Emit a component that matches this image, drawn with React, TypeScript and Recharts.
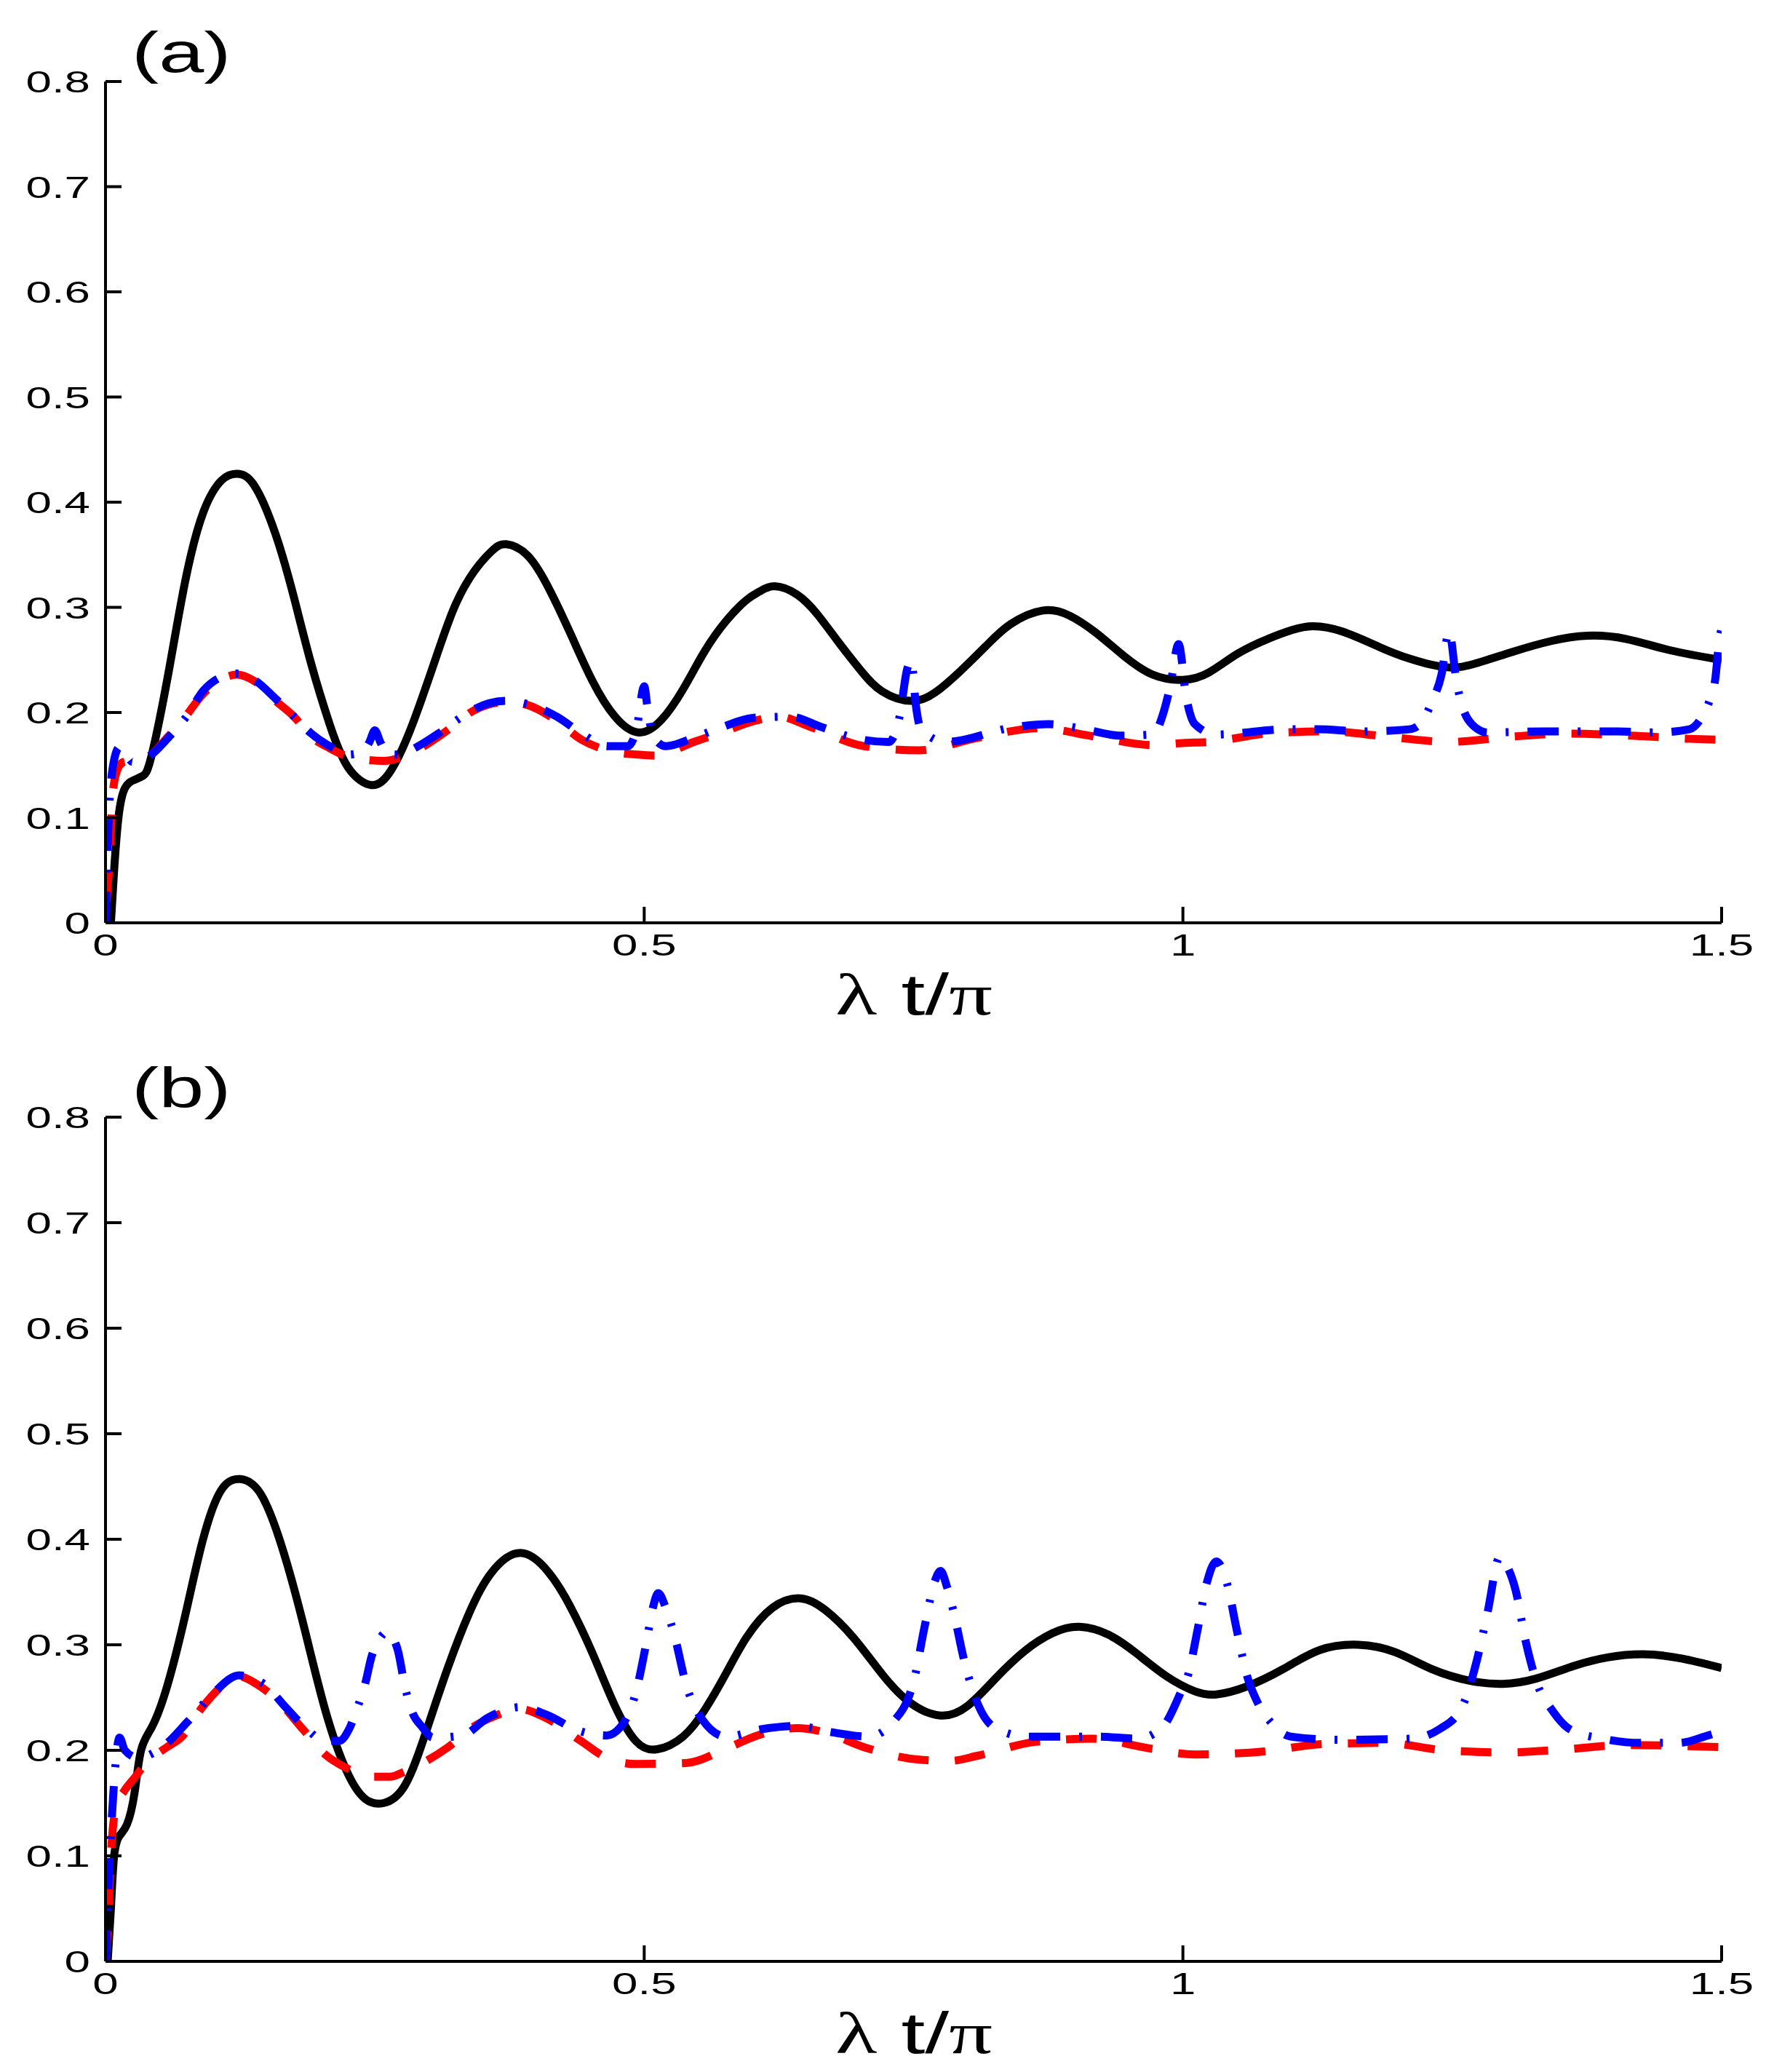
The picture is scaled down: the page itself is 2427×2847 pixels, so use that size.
import React from "react";
import { LineChart, Line, XAxis, YAxis } from "recharts";

// panel (a)
const tA_black = [0.005, 0.008, 0.012, 0.018, 0.027, 0.035, 0.0425, 0.0576, 0.074, 0.091, 0.108, 0.122, 0.138, 0.158, 0.175, 0.191, 0.208, 0.225, 0.247, 0.265, 0.285, 0.309, 0.325, 0.342, 0.359, 0.372, 0.392, 0.412, 0.432, 0.452, 0.473, 0.495, 0.516, 0.536, 0.556, 0.576, 0.595, 0.607, 0.621, 0.642, 0.661, 0.681, 0.701, 0.721, 0.748, 0.77, 0.793, 0.817, 0.84, 0.87, 0.895, 0.919, 0.945, 0.972, 1.0, 1.024, 1.051, 1.079, 1.1, 1.12, 1.148, 1.183, 1.211, 1.245, 1.273, 1.307, 1.342, 1.375, 1.411, 1.453, 1.5];
const vA_black = [0, 0.05, 0.1, 0.128, 0.136, 0.14, 0.158, 0.233, 0.325, 0.391, 0.421, 0.427, 0.416, 0.369, 0.309, 0.246, 0.189, 0.148, 0.131, 0.145, 0.189, 0.259, 0.303, 0.334, 0.354, 0.36, 0.349, 0.317, 0.274, 0.23, 0.196, 0.181, 0.193, 0.222, 0.258, 0.287, 0.307, 0.315, 0.32, 0.312, 0.293, 0.266, 0.24, 0.22, 0.211, 0.219, 0.239, 0.263, 0.284, 0.297, 0.292, 0.276, 0.254, 0.236, 0.231, 0.238, 0.256, 0.27, 0.278, 0.282, 0.277, 0.262, 0.251, 0.243, 0.247, 0.258, 0.268, 0.273, 0.27, 0.259, 0.25];

const tA_red = [0.001, 0.004, 0.007, 0.012, 0.017, 0.031, 0.041, 0.058, 0.071, 0.091, 0.108, 0.122, 0.138, 0.158, 0.175, 0.191, 0.208, 0.225, 0.242, 0.258, 0.285, 0.309, 0.325, 0.342, 0.372, 0.392, 0.419, 0.442, 0.466, 0.493, 0.51, 0.546, 0.572, 0.602, 0.625, 0.655, 0.704, 0.755, 0.81, 0.866, 0.919, 0.972, 1.0, 1.024, 1.079, 1.134, 1.19, 1.247, 1.304, 1.359, 1.415, 1.47, 1.5];
const vA_red = [0.02, 0.063, 0.126, 0.148, 0.153, 0.155, 0.159, 0.177, 0.192, 0.218, 0.232, 0.236, 0.23, 0.211, 0.196, 0.177, 0.166, 0.158, 0.155, 0.154, 0.162, 0.177, 0.189, 0.202, 0.21, 0.207, 0.192, 0.174, 0.164, 0.16, 0.159, 0.172, 0.181, 0.192, 0.196, 0.186, 0.168, 0.164, 0.176, 0.185, 0.177, 0.169, 0.171, 0.172, 0.18, 0.182, 0.177, 0.172, 0.177, 0.18, 0.178, 0.175, 0.174];

const tA_blue = [0, 0.003, 0.008, 0.013, 0.018, 0.025, 0.035, 0.045, 0.06, 0.075, 0.091, 0.108, 0.122, 0.138, 0.158, 0.175, 0.191, 0.208, 0.225, 0.238, 0.245, 0.25, 0.255, 0.262, 0.275, 0.285, 0.309, 0.325, 0.342, 0.372, 0.392, 0.419, 0.442, 0.466, 0.485, 0.493, 0.5, 0.503, 0.508, 0.52, 0.546, 0.572, 0.602, 0.635, 0.665, 0.694, 0.727, 0.737, 0.744, 0.748, 0.752, 0.757, 0.78, 0.843, 0.875, 0.909, 0.942, 0.972, 0.982, 0.988, 0.996, 1.003, 1.011, 1.031, 1.096, 1.125, 1.166, 1.21, 1.221, 1.231, 1.24, 1.247, 1.254, 1.259, 1.269, 1.283, 1.335, 1.404, 1.439, 1.47, 1.48, 1.489, 1.494, 1.498, 1.5];
const vA_blue = [0, 0.1, 0.155, 0.167, 0.162, 0.153, 0.155, 0.162, 0.178, 0.196, 0.221, 0.234, 0.237, 0.231, 0.213, 0.196, 0.18, 0.168, 0.16, 0.162, 0.172, 0.183, 0.172, 0.16, 0.16, 0.165, 0.18, 0.192, 0.203, 0.211, 0.208, 0.196, 0.18, 0.168, 0.168, 0.185, 0.225, 0.205, 0.178, 0.168, 0.176, 0.186, 0.195, 0.196, 0.186, 0.176, 0.172, 0.196, 0.241, 0.25, 0.208, 0.184, 0.172, 0.186, 0.189, 0.184, 0.178, 0.179, 0.2, 0.224, 0.265, 0.215, 0.189, 0.179, 0.184, 0.184, 0.182, 0.184, 0.19, 0.21, 0.236, 0.277, 0.229, 0.207, 0.188, 0.181, 0.182, 0.182, 0.181, 0.184, 0.193, 0.212, 0.231, 0.27, 0.28];

// panel (b)
const tB_black = [0.002, 0.005, 0.008, 0.013, 0.02, 0.027, 0.033, 0.043, 0.057, 0.074, 0.09, 0.107, 0.125, 0.144, 0.164, 0.184, 0.204, 0.224, 0.241, 0.258, 0.278, 0.298, 0.318, 0.338, 0.358, 0.385, 0.411, 0.431, 0.452, 0.472, 0.492, 0.512, 0.536, 0.556, 0.576, 0.595, 0.619, 0.645, 0.668, 0.694, 0.721, 0.747, 0.775, 0.8, 0.826, 0.853, 0.879, 0.904, 0.932, 0.958, 0.985, 1.011, 1.031, 1.058, 1.093, 1.127, 1.163, 1.197, 1.231, 1.266, 1.297, 1.328, 1.363, 1.394, 1.427, 1.463, 1.5];
const vB_black = [0, 0.05, 0.1, 0.119, 0.13, 0.16, 0.2, 0.222, 0.26, 0.328, 0.398, 0.446, 0.457, 0.443, 0.392, 0.318, 0.238, 0.18, 0.154, 0.15, 0.167, 0.219, 0.279, 0.331, 0.368, 0.387, 0.369, 0.337, 0.292, 0.244, 0.209, 0.201, 0.213, 0.238, 0.273, 0.307, 0.335, 0.344, 0.333, 0.307, 0.272, 0.245, 0.233, 0.242, 0.268, 0.294, 0.311, 0.317, 0.309, 0.291, 0.27, 0.256, 0.253, 0.26, 0.277, 0.295, 0.3, 0.293, 0.277, 0.266, 0.263, 0.268, 0.28, 0.288, 0.291, 0.287, 0.278];

const tB_red = [0, 0.002, 0.005, 0.01, 0.017, 0.027, 0.037, 0.057, 0.07, 0.09, 0.107, 0.124, 0.14, 0.161, 0.184, 0.204, 0.224, 0.244, 0.264, 0.278, 0.298, 0.318, 0.341, 0.358, 0.385, 0.408, 0.441, 0.465, 0.492, 0.539, 0.579, 0.605, 0.642, 0.668, 0.704, 0.757, 0.784, 0.81, 0.863, 0.916, 0.968, 1.011, 1.076, 1.131, 1.188, 1.243, 1.3, 1.356, 1.411, 1.468, 1.5];
const vB_red = [0, 0.03, 0.1, 0.148, 0.161, 0.174, 0.187, 0.203, 0.212, 0.241, 0.26, 0.27, 0.263, 0.246, 0.219, 0.196, 0.183, 0.175, 0.175, 0.18, 0.19, 0.203, 0.222, 0.231, 0.239, 0.231, 0.209, 0.193, 0.187, 0.188, 0.203, 0.214, 0.221, 0.217, 0.203, 0.191, 0.19, 0.195, 0.208, 0.211, 0.202, 0.196, 0.199, 0.206, 0.207, 0.2, 0.198, 0.201, 0.205, 0.204, 0.203];

const tB_blue = [0, 0.004, 0.008, 0.013, 0.018, 0.03, 0.05, 0.077, 0.1, 0.124, 0.147, 0.167, 0.184, 0.204, 0.217, 0.226, 0.234, 0.241, 0.247, 0.254, 0.261, 0.271, 0.278, 0.284, 0.294, 0.304, 0.331, 0.355, 0.385, 0.411, 0.438, 0.465, 0.478, 0.492, 0.502, 0.508, 0.513, 0.52, 0.528, 0.539, 0.554, 0.576, 0.609, 0.642, 0.675, 0.708, 0.731, 0.751, 0.76, 0.77, 0.775, 0.781, 0.787, 0.797, 0.81, 0.826, 0.856, 0.922, 0.958, 0.981, 0.998, 1.005, 1.013, 1.022, 1.031, 1.041, 1.05, 1.06, 1.069, 1.083, 1.1, 1.145, 1.211, 1.238, 1.259, 1.273, 1.283, 1.294, 1.302, 1.309, 1.318, 1.33, 1.342, 1.359, 1.39, 1.425, 1.46, 1.487, 1.5];
const vB_blue = [0, 0.1, 0.17, 0.212, 0.2, 0.193, 0.201, 0.228, 0.254, 0.271, 0.263, 0.241, 0.223, 0.209, 0.209, 0.22, 0.241, 0.263, 0.289, 0.305, 0.312, 0.296, 0.26, 0.238, 0.222, 0.212, 0.214, 0.231, 0.241, 0.233, 0.219, 0.214, 0.222, 0.254, 0.302, 0.335, 0.349, 0.335, 0.309, 0.262, 0.229, 0.213, 0.22, 0.223, 0.217, 0.213, 0.227, 0.269, 0.316, 0.361, 0.37, 0.355, 0.332, 0.285, 0.243, 0.221, 0.213, 0.213, 0.211, 0.222, 0.255, 0.272, 0.311, 0.358, 0.379, 0.358, 0.314, 0.269, 0.246, 0.225, 0.213, 0.21, 0.211, 0.22, 0.241, 0.286, 0.332, 0.383, 0.372, 0.351, 0.304, 0.26, 0.239, 0.22, 0.211, 0.207, 0.207, 0.214, 0.218];

const xTicks = [0, 0.5, 1, 1.5];
const yTicks = [0, 0.1, 0.2, 0.3, 0.4, 0.5, 0.6, 0.7, 0.8];

const zip = (t: number[], v: number[]) => t.map((x, i) => ({ t: x, v: v[i] }));

const FONT = "'Liberation Sans', Arial, Helvetica, sans-serif";
const STRETCH = 1.48;

const YTick = ({ x, y, payload }: any) => (
  <g>
    <line x1={x} y1={y} x2={x + 22} y2={y} stroke="#000" strokeWidth={4} />
    <g transform={`translate(${x - 21},${y + 15})`}>
      <text transform={`scale(${STRETCH},1)`} textAnchor="end" fontFamily={FONT} fontSize={43} fill="#000">
        {String(payload.value)}
      </text>
    </g>
  </g>
);

const XTick = ({ x, y, payload }: any) => (
  <g>
    <line x1={x} y1={y} x2={x} y2={y - 22} stroke="#000" strokeWidth={4} />
    <g transform={`translate(${x},${y + 45})`}>
      <text transform={`scale(${STRETCH},1)`} textAnchor="middle" fontFamily={FONT} fontSize={43} fill="#000">
        {String(payload.value)}
      </text>
    </g>
  </g>
);

const Panel = ({ top, height, label, black, red, blue }: any) => {
  const plotTop = 112;
  const plotBottom = height - 152;
  return (
    <div style={{ position: "absolute", left: 0, top, width: 2427, height }}>
      <LineChart
        width={2427}
        height={height}
        margin={{ top: plotTop, right: 61, bottom: 151, left: 144 }}
        style={{ overflow: "visible" }}
      >
        <XAxis
          dataKey="t"
          type="number"
          domain={[0, 1.5]}
          ticks={xTicks}
          height={1}
          tickSize={0}
          tickMargin={0}
          tickLine={false}
          axisLine={{ stroke: "#000", strokeWidth: 4 }}
          tick={<XTick />}
          interval={0}
          allowDataOverflow
        />
        <YAxis
          type="number"
          domain={[0, 0.8]}
          ticks={yTicks}
          width={1}
          tickSize={0}
          tickMargin={0}
          tickLine={false}
          axisLine={{ stroke: "#000", strokeWidth: 4 }}
          tick={<YTick />}
          interval={0}
          allowDataOverflow
        />
        <Line
          data={black}
          dataKey="v"
          type="natural"
          stroke="#000000"
          strokeWidth={11}
          dot={false}
          strokeLinejoin="round"
          isAnimationActive={false}
        />
        <Line
          data={red}
          dataKey="v"
          type="monotone"
          stroke="#ff0000"
          strokeWidth={11}
          strokeDasharray="42 36"
          dot={false}
          isAnimationActive={false}
        />
        <Line
          data={blue}
          dataKey="v"
          type="monotone"
          stroke="#0000ff"
          strokeWidth={11}
          strokeDasharray="43 26 4 26"
          dot={false}
          isAnimationActive={false}
        />
      </LineChart>
      <svg
        width={2427}
        height={height}
        style={{ position: "absolute", left: 0, top: 0, pointerEvents: "none" }}
      >
        <g transform="translate(181,99)">
          <text transform="scale(1.45,1)" fontFamily={FONT} fontSize={77} fill="#000">
            {label}
          </text>
        </g>
        <g transform={`translate(1256,${plotBottom + 126})`}>
          <text transform={`scale(${STRETCH},1)`} textAnchor="middle" fontFamily={FONT} fontSize={80} fill="#000">
            <tspan fontFamily="'Liberation Serif', serif">λ</tspan>
            <tspan> t/</tspan>
            <tspan fontFamily="'Liberation Serif', serif">π</tspan>
          </text>
        </g>
      </svg>
    </div>
  );
};

export default function App() {
  return (
    <div
      style={{
        position: "absolute",
        left: 0,
        top: 0,
        width: 2427,
        height: 2847,
        background: "#ffffff",
        overflow: "hidden",
      }}
    >
      <Panel
        top={0}
        height={1420}
        label="(a)"
        black={zip(tA_black, vA_black)}
        red={zip(tA_red, vA_red)}
        blue={zip(tA_blue, vA_blue)}
      />
      <Panel
        top={1423}
        height={1424}
        label="(b)"
        black={zip(tB_black, vB_black)}
        red={zip(tB_red, vB_red)}
        blue={zip(tB_blue, vB_blue)}
      />
    </div>
  );
}
